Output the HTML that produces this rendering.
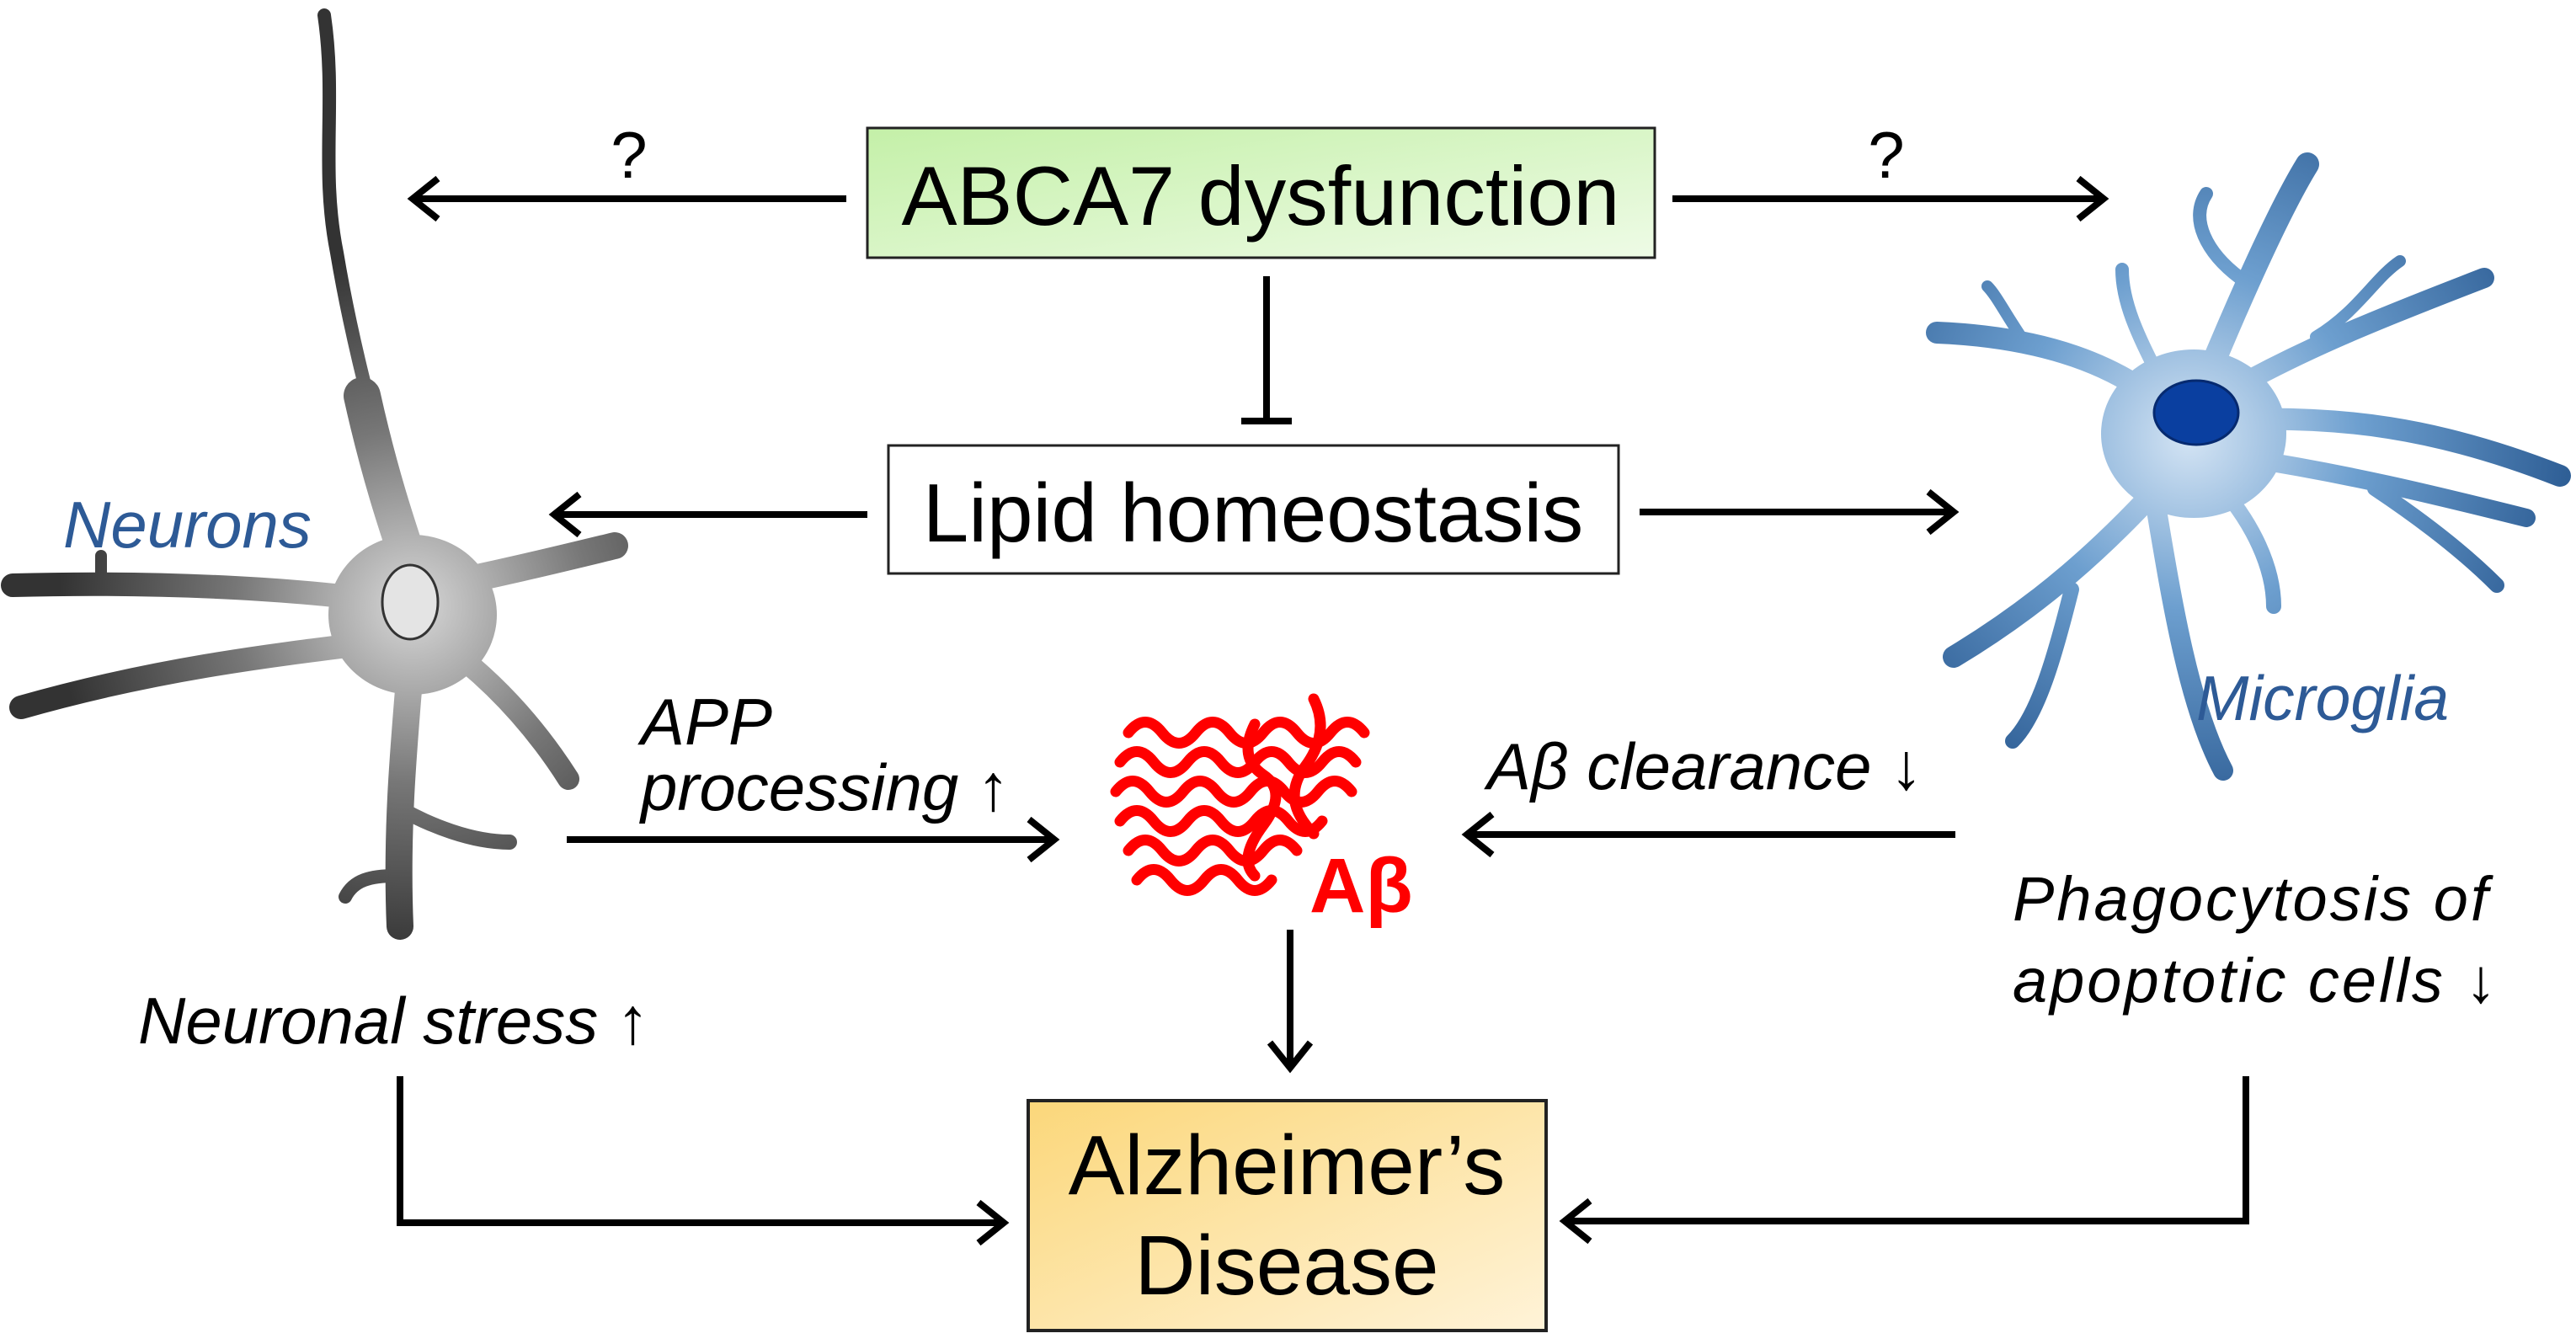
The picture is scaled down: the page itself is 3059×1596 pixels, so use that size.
<!DOCTYPE html>
<html><head><meta charset="utf-8"><style>
body{margin:0;background:#fff;}
svg{display:block;}
text{font-family:"Liberation Sans",sans-serif;}
</style></head><body>
<svg width="3059" height="1596" viewBox="0 0 3059 1596" xmlns="http://www.w3.org/2000/svg">
<defs>
<linearGradient id="g1" x1="0" y1="0" x2="1" y2="1"><stop offset="0" stop-color="#c4f0a8"/><stop offset="1" stop-color="#eefbe6"/></linearGradient>
<linearGradient id="g2" x1="0" y1="0" x2="1" y2="1"><stop offset="0" stop-color="#fbd77a"/><stop offset="1" stop-color="#fff3d8"/></linearGradient>
<radialGradient id="gn" cx="490" cy="720" r="420" gradientUnits="userSpaceOnUse"><stop offset="0" stop-color="#d8d8d8"/><stop offset="0.5" stop-color="#777"/><stop offset="1" stop-color="#333"/></radialGradient>
<radialGradient id="gm" cx="2600" cy="520" r="450" gradientUnits="userSpaceOnUse"><stop offset="0" stop-color="#d4e4f4"/><stop offset="0.45" stop-color="#6d9fcf"/><stop offset="1" stop-color="#2f5f96"/></radialGradient>
</defs>

<!-- Neuron -->
<g stroke="url(#gn)" stroke-linecap="round" fill="none">
<path d="M385,18 C400,120 380,200 400,300 C420,420 450,520 475,620" stroke-width="16"/>
<path d="M430,470 C450,560 470,620 490,680" stroke-width="44"/>
<path d="M490,720 C380,700 200,690 15,695" stroke-width="28"/>
<path d="M120,690 L120,660" stroke-width="14"/>
<path d="M470,760 C350,775 200,790 25,840" stroke-width="28"/>
<path d="M500,700 C600,680 680,660 730,648" stroke-width="32"/>
<path d="M520,760 C590,810 640,870 675,925" stroke-width="26"/>
<path d="M490,760 C480,880 470,980 475,1100" stroke-width="32"/>
<path d="M475,960 C510,980 560,1000 605,1000" stroke-width="18"/>
<path d="M470,1040 C440,1040 420,1045 410,1065" stroke-width="16"/>
</g>
<ellipse cx="490" cy="730" rx="100" ry="95" fill="url(#gn)"/>
<ellipse cx="487" cy="715" rx="33" ry="44" fill="#e4e4e4" stroke="#333" stroke-width="3"/>

<!-- Microglia -->
<g stroke="url(#gm)" stroke-linecap="round" fill="none">
<path d="M2600,500 C2640,400 2700,260 2740,195" stroke-width="28"/>
<path d="M2660,330 C2620,300 2600,260 2620,230" stroke-width="16"/>
<path d="M2590,500 C2520,430 2420,400 2300,395" stroke-width="26"/>
<path d="M2400,400 C2380,370 2370,350 2360,340" stroke-width="14"/>
<path d="M2560,440 C2540,400 2520,360 2520,320" stroke-width="16"/>
<path d="M2620,480 C2720,420 2820,380 2950,330" stroke-width="24"/>
<path d="M2750,400 C2800,370 2820,330 2850,310" stroke-width="14"/>
<path d="M2620,500 C2780,490 2900,510 3040,565" stroke-width="26"/>
<path d="M2640,540 C2780,560 2900,590 3000,615" stroke-width="22"/>
<path d="M2820,580 C2880,620 2930,660 2965,695" stroke-width="18"/>
<path d="M2620,560 C2680,620 2700,680 2700,720" stroke-width="18"/>
<path d="M2580,560 C2500,650 2420,720 2320,780" stroke-width="26"/>
<path d="M2460,700 C2440,780 2420,850 2390,880" stroke-width="18"/>
<path d="M2560,600 C2580,720 2600,840 2640,915" stroke-width="24"/>
</g>
<ellipse cx="2605" cy="515" rx="110" ry="100" fill="url(#gm)"/>
<ellipse cx="2608" cy="490" rx="50" ry="38" fill="#0a3fa0" stroke="#062a70" stroke-width="3"/>

<!-- Boxes -->
<rect x="1030" y="152" width="935" height="154" fill="url(#g1)" stroke="#222" stroke-width="3"/>
<text x="1497" y="267" font-size="99" text-anchor="middle">ABCA7 dysfunction</text>
<rect x="1055" y="529" width="867" height="152" fill="#fff" stroke="#222" stroke-width="3"/>
<text x="1488" y="643" font-size="98" text-anchor="middle">Lipid homeostasis</text>
<rect x="1221" y="1307" width="615" height="273" fill="url(#g2)" stroke="#222" stroke-width="4"/>
<text x="1528" y="1418" font-size="100" text-anchor="middle">Alzheimer’s</text>
<text x="1528" y="1537" font-size="100" text-anchor="middle">Disease</text>

<!-- Arrows -->
<g stroke="#000" stroke-width="8" fill="none" stroke-linecap="butt">
<line x1="1005" y1="236" x2="492" y2="236"/><path d="M520,212 L490,236 L520,260"/>
<line x1="1986" y1="236" x2="2495" y2="236"/><path d="M2468,212 L2498,236 L2468,260"/>
<line x1="1504" y1="328" x2="1504" y2="500"/><line x1="1474" y1="500" x2="1534" y2="500"/>
<line x1="1030" y1="611" x2="660" y2="611"/><path d="M688,587 L658,611 L688,635"/>
<line x1="1947" y1="608" x2="2316" y2="608"/><path d="M2290,584 L2320,608 L2290,632"/>
<line x1="673" y1="997" x2="1248" y2="997"/><path d="M1222,973 L1252,997 L1222,1021"/>
<line x1="2322" y1="991" x2="1744" y2="991"/><path d="M1772,967 L1742,991 L1772,1015"/>
<line x1="1532" y1="1104" x2="1532" y2="1266"/><path d="M1508,1238 L1532,1268 L1556,1238"/>
<path d="M475,1278 L475,1452 L1188,1452"/><path d="M1162,1428 L1192,1452 L1162,1476"/>
<path d="M2667,1278 L2667,1450 L1862,1450"/><path d="M1888,1426 L1858,1450 L1888,1474"/>
</g>

<!-- Labels -->
<text x="747" y="211" font-size="78" text-anchor="middle">?</text>
<text x="2240" y="211" font-size="78" text-anchor="middle">?</text>
<g font-size="78" font-style="italic">
<text x="75" y="650" fill="#2d5a96">Neurons</text>
<text x="2608" y="855" fill="#2d5a96" font-size="75">Microglia</text>
<text x="761" y="884">APP</text>
<text x="761" y="962">processing ↑</text>
<text x="1766" y="937">Aβ clearance ↓</text>
<text x="164" y="1239">Neuronal stress ↑</text>
<text x="2390" y="1093" font-size="74" letter-spacing="3">Phagocytosis of</text>
<text x="2390" y="1190" font-size="74" letter-spacing="3">apoptotic cells ↓</text>
</g>
<!-- Abeta squiggles -->
<g stroke="#ff0000" stroke-width="13" fill="none" stroke-linecap="round">
<path d="M1340,870 q20,-25 40,0 t40,0 t40,0 t40,0 t40,0 t40,0 t40,0"/>
<path d="M1330,905 q20,-25 40,0 t40,0 t40,0 t40,0 t40,0 t40,0 t40,0"/>
<path d="M1325,940 q20,-25 40,0 t40,0 t40,0 t40,0 t40,0 t40,0 t40,0"/>
<path d="M1330,975 q20,-25 40,0 t40,0 t40,0 t40,0 t40,0 t40,0"/>
<path d="M1340,1010 q20,-25 40,0 t40,0 t40,0 t40,0 t40,0"/>
<path d="M1350,1045 q20,-25 40,0 t40,0 t40,0 t40,0"/>
<path d="M1490,860 q-20,40 10,60 t0,60 t-10,60"/>
<path d="M1560,830 q20,40 -10,80 t10,80"/>
</g>
<text x="1555" y="1083" font-size="92" font-weight="bold" fill="#ff0000">Aβ</text>
</svg>
</body></html>
